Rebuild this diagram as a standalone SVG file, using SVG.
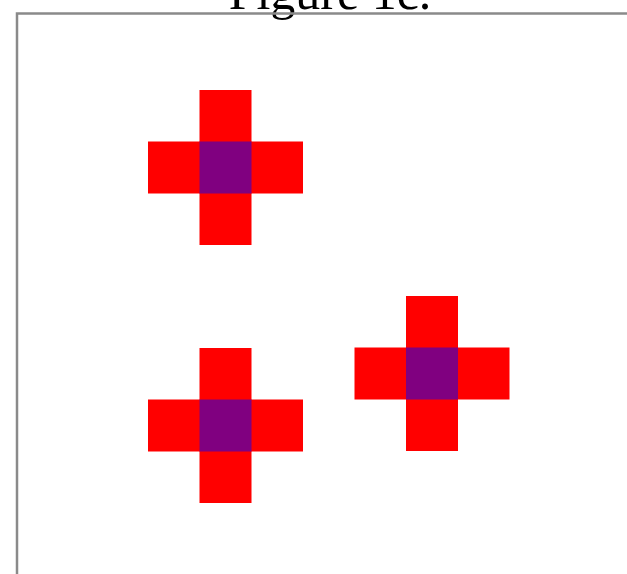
<svg xmlns="http://www.w3.org/2000/svg" xmlns:xlink="http://www.w3.org/1999/xlink" width="627" height="574" viewBox="0 0 627 574">
  <style>
    .arm { fill: #ff0000; }
    .core { fill: #800080; }
    .frame { fill: none; stroke: #8a8a8a; stroke-width: 2.5; }
    .title { font-family: "Liberation Serif", "Times New Roman", serif; font-size: 50px; fill: #000; }
  </style>
  <defs>
    <g id="cross-shape">
      <rect class="arm" x="-26" y="-77.5" width="52" height="155"/>
      <rect class="arm" x="-77.5" y="-26" width="155" height="52"/>
      <rect class="core" x="-26" y="-26" width="52" height="52"/>
    </g>
  </defs>
  <rect width="627" height="574" fill="#ffffff"/>
  <text class="title" x="330" y="9" text-anchor="middle">Figure 1c.</text>
  <rect class="frame" x="17" y="13.5" width="700" height="700"/>
  <g id="cross1"><use xlink:href="#cross-shape" transform="translate(225.5,167.5)"/></g>
  <g id="cross2"><use xlink:href="#cross-shape" transform="translate(225.5,425.5)"/></g>
  <g id="cross3"><use xlink:href="#cross-shape" transform="translate(432,373.5)"/></g>
  <g id="connectors"></g>
</svg>
